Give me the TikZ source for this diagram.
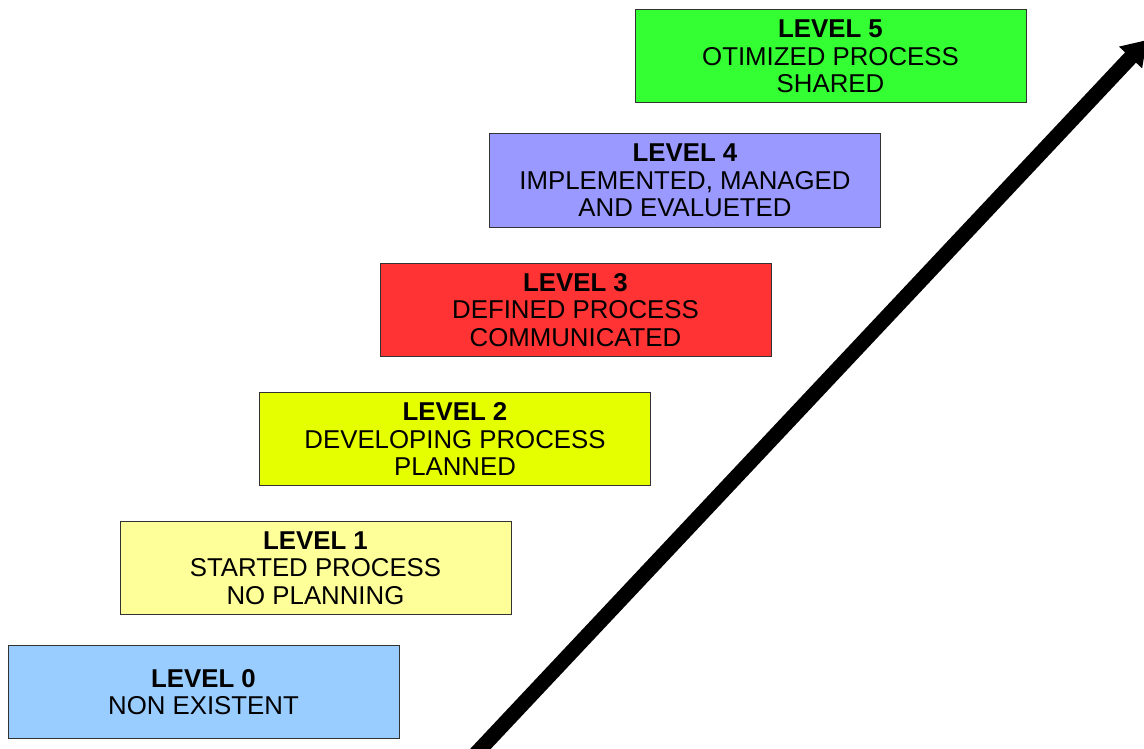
\documentclass[tikz,border=0pt]{standalone}
\usepackage{fontspec}
\setmainfont{Liberation Sans}
\usepackage[x11names, svgnames]{xcolor}
\usetikzlibrary{arrows.meta, calc}
\definecolor{lvlzero}{HTML}{99CCFF}
\definecolor{lvlone}{HTML}{FFFF99}
\definecolor{lvltwo}{HTML}{E6FF00}
\definecolor{lvlthree}{HTML}{FF3333}
\definecolor{lvlfour}{HTML}{9999FF}
\definecolor{lvlfive}{HTML}{33FF33}
\def\bw{391}
\def\bh{93}

\begin{document}
\begin{tikzpicture}[x=1pt, y=-1pt, line cap=round,
		levelbox/.style={draw=black!80, line width=1pt, minimum width=\bw pt, minimum height=\bh pt,
			inner sep=0pt, align=center, font=\fontsize{25.8}{27.5}\selectfont},
		stairarrow/.style={line width=15pt, line cap=butt, -{Triangle[length=24pt, width=30pt]}}
	]

	\useasboundingbox (0,0) rectangle (1144,749);

	\coordinate (P0) at (203.5,692);
	\coordinate (P1) at (315.5,568);
	\coordinate (P2) at (455,439);
	\coordinate (P3) at (575.5,310);
	\coordinate (P4) at (685,180.5);
	\coordinate (P5) at (830.5,56.5);

	\node[levelbox, fill=lvlzero] (L0) at (P0) {\textbf{LEVEL 0}\\NON EXISTENT};
	\node[levelbox, fill=lvlone] (L1) at (P1) {\textbf{LEVEL 1}\\STARTED PROCESS\\NO PLANNING};
	\node[levelbox, fill=lvltwo] (L2) at (P2) {\textbf{LEVEL 2}\\DEVELOPING PROCESS\\PLANNED};
	\node[levelbox, fill=lvlthree] (L3) at (P3) {\textbf{LEVEL 3}\\DEFINED PROCESS\\COMMUNICATED};
	\node[levelbox, fill=lvlfour] (L4) at (P4) {\textbf{LEVEL 4}\\IMPLEMENTED, MANAGED\\AND EVALUETED};
	\node[levelbox, fill=lvlfive] (L5) at (P5) {\textbf{LEVEL 5}\\OTIMIZED PROCESS\\SHARED};

	\coordinate (A) at (470,760);
	\coordinate (B) at (1147,40);
	\draw[stairarrow] (A) -- (B);

\end{tikzpicture}
\end{document}
